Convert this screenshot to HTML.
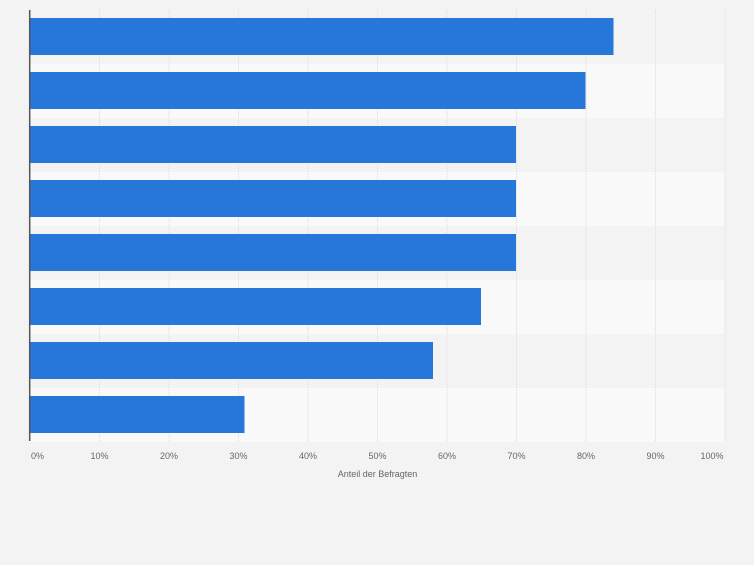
<!DOCTYPE html>
<html><head><style>
body{margin:0;width:754px;height:560px;background:#f3f3f3;font-family:"Liberation Sans",sans-serif;overflow:hidden}
</style></head><body>
<svg width="754" height="560" xmlns="http://www.w3.org/2000/svg">
<rect width="754" height="560" fill="#f3f3f3"/>
<g>
<rect x="30" y="64" width="695" height="54" fill="#f9f9f9"/>
<rect x="30" y="172" width="695" height="54" fill="#f9f9f9"/>
<rect x="30" y="280" width="695" height="54" fill="#f9f9f9"/>
<rect x="30" y="388" width="695" height="54" fill="#f9f9f9"/>
</g>
<g stroke="#dcdcdc" stroke-width="1" stroke-dasharray="1,1">
<line x1="99.5" y1="10" x2="99.5" y2="441"/>
<line x1="169" y1="10" x2="169" y2="441"/>
<line x1="238.5" y1="10" x2="238.5" y2="441"/>
<line x1="308" y1="10" x2="308" y2="441"/>
<line x1="377.5" y1="10" x2="377.5" y2="441"/>
<line x1="447" y1="10" x2="447" y2="441"/>
<line x1="516.5" y1="10" x2="516.5" y2="441"/>
<line x1="586" y1="10" x2="586" y2="441"/>
<line x1="655.5" y1="10" x2="655.5" y2="441"/>
<line x1="725" y1="10" x2="725" y2="441"/>
</g>
<g fill="#2776d9">
<rect x="30" y="18" width="583.5" height="37"/>
<rect x="30" y="72" width="555.5" height="37"/>
<rect x="30" y="126" width="486" height="37"/>
<rect x="30" y="180" width="486" height="37"/>
<rect x="30" y="234" width="486" height="37"/>
<rect x="30" y="288" width="451" height="37"/>
<rect x="30" y="342" width="403" height="37"/>
<rect x="30" y="396" width="214.5" height="37"/>
</g>
<line x1="29.7" y1="10" x2="29.7" y2="441" stroke="#555" stroke-width="1.5"/>
<g font-size="9" fill="#666" text-anchor="middle">
<text x="37.5" y="459">0%</text>
<text x="99.5" y="459">10%</text>
<text x="169" y="459">20%</text>
<text x="238.5" y="459">30%</text>
<text x="308" y="459">40%</text>
<text x="377.5" y="459">50%</text>
<text x="447" y="459">60%</text>
<text x="516.5" y="459">70%</text>
<text x="586" y="459">80%</text>
<text x="655.5" y="459">90%</text>
<text x="712" y="459">100%</text>
<text x="377.5" y="477">Anteil der Befragten</text>
</g>
</svg>
</body></html>
